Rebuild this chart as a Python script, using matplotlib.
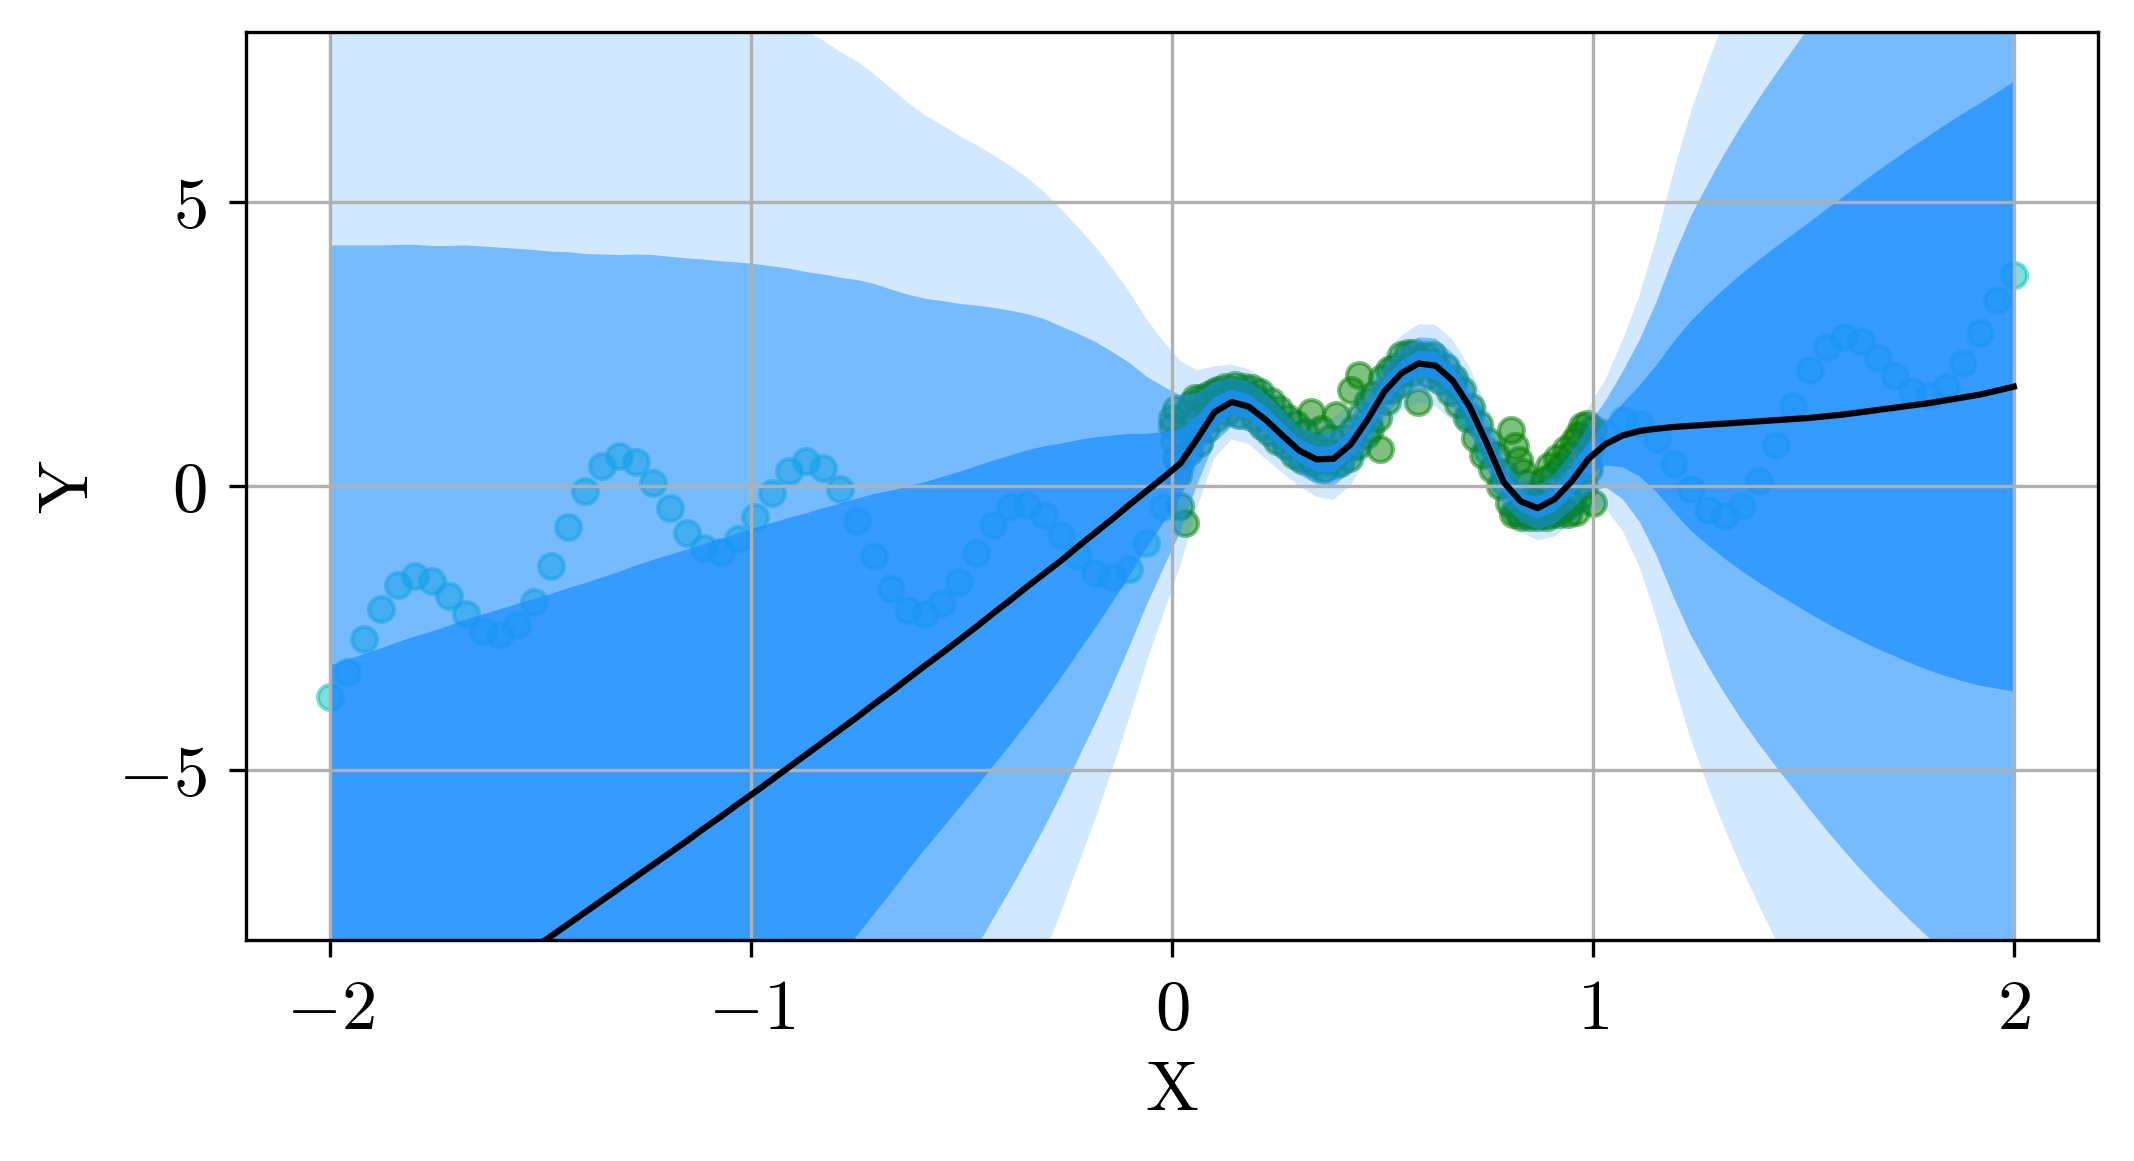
import numpy as np
import matplotlib
matplotlib.use("Agg")
import matplotlib.pyplot as plt

plt.rcParams['font.family'] = 'serif'
plt.rcParams['font.serif'] = ['cmr10']
plt.rcParams['mathtext.fontset'] = 'cm'
plt.rcParams['axes.unicode_minus'] = True

# ---------------- data ----------------
x_grid = np.linspace(-2, 2, 100)

y_test = [
    -3.71, -3.28, -2.70, -2.16, -1.75, -1.59, -1.67, -1.93, -2.26, -2.55,
    -2.63, -2.45, -2.04, -1.41, -0.72, -0.08, 0.35, 0.52, 0.42, 0.06,
    -0.39, -0.82, -1.10, -1.16, -0.94, -0.54, -0.12, 0.26, 0.44, 0.32,
    -0.06, -0.61, -1.23, -1.81, -2.18, -2.26, -2.06, -1.69, -1.18, -0.68,
    -0.37, -0.33, -0.51, -0.86, -1.23, -1.53, -1.61, -1.47, -1.00, -0.37,
    0.37, 1.00, 1.47, 1.61, 1.53, 1.23, 0.86, 0.51, 0.33, 0.37,
    0.68, 1.18, 1.69, 2.06, 2.26, 2.18, 1.81, 1.23, 0.61, 0.06,
    -0.32, -0.44, -0.26, 0.12, 0.54, 0.94, 1.16, 1.10, 0.82, 0.39,
    -0.06, -0.42, -0.52, -0.35, 0.08, 0.72, 1.41, 2.04, 2.45, 2.63,
    2.55, 2.26, 1.93, 1.67, 1.59, 1.75, 2.16, 2.70, 3.28, 3.71,
]

mean_pred = [
    -10.56, -10.36, -10.16, -9.96, -9.75, -9.55, -9.35, -9.15, -8.94, -8.74,
    -8.54, -8.34, -8.14, -7.93, -7.72, -7.51, -7.30, -7.09, -6.88, -6.67,
    -6.46, -6.25, -6.03, -5.82, -5.60, -5.39, -5.17, -4.95, -4.73, -4.51,
    -4.29, -4.07, -3.84, -3.62, -3.39, -3.16, -2.94, -2.71, -2.48, -2.24,
    -2.01, -1.77, -1.54, -1.31, -1.06, -0.82, -0.58, -0.33, -0.09, 0.15,
    0.40, 0.84, 1.30, 1.48, 1.40, 1.17, 0.89, 0.62, 0.47, 0.48,
    0.73, 1.17, 1.67, 1.99, 2.16, 2.12, 1.86, 1.40, 0.76, 0.07,
    -0.27, -0.39, -0.23, 0.08, 0.48, 0.74, 0.89, 0.97, 1.01, 1.04,
    1.06, 1.08, 1.10, 1.12, 1.14, 1.16, 1.18, 1.20, 1.23, 1.26,
    1.30, 1.34, 1.38, 1.42, 1.46, 1.51, 1.56, 1.61, 1.68, 1.75,
]

std_pred = [
    7.40, 7.30, 7.20, 7.10, 7.00, 6.90, 6.79, 6.69, 6.59, 6.48,
    6.37, 6.26, 6.15, 6.03, 5.92, 5.80, 5.69, 5.58, 5.48, 5.37,
    5.25, 5.13, 5.01, 4.89, 4.77, 4.65, 4.52, 4.39, 4.25, 4.12,
    3.98, 3.85, 3.70, 3.54, 3.38, 3.23, 3.10, 2.96, 2.83, 2.69,
    2.55, 2.40, 2.24, 2.06, 1.87, 1.68, 1.47, 1.25, 1.01, 0.80,
    0.60, 0.40, 0.27, 0.22, 0.22, 0.23, 0.22, 0.21, 0.22, 0.24,
    0.24, 0.23, 0.22, 0.22, 0.23, 0.24, 0.24, 0.23, 0.22, 0.20,
    0.18, 0.19, 0.22, 0.25, 0.30, 0.38, 0.56, 0.80, 1.12, 1.50,
    1.84, 2.12, 2.38, 2.62, 2.84, 3.05, 3.25, 3.45, 3.65, 3.84,
    4.03, 4.21, 4.38, 4.55, 4.71, 4.86, 5.00, 5.13, 5.25, 5.37,
]

x_train = [
    0.000, 0.000, 0.005, 0.010, 0.010, 0.015, 0.020, 0.030, 0.025, 0.035,
    0.040, 0.045, 0.050, 0.055, 0.060, 0.065, 0.070, 0.080, 0.085, 0.090,
    0.100, 0.105, 0.110, 0.120, 0.125, 0.130, 0.140, 0.145, 0.150, 0.160,
    0.165, 0.170, 0.180, 0.190, 0.195, 0.200, 0.210, 0.215, 0.220, 0.230,
    0.235, 0.240, 0.250, 0.255, 0.260, 0.270, 0.275, 0.280, 0.290, 0.295,
    0.300, 0.310, 0.315, 0.320, 0.330, 0.335, 0.340, 0.350, 0.355, 0.360,
    0.370, 0.375, 0.380, 0.390, 0.395, 0.400, 0.410, 0.420, 0.425, 0.430,
    0.440, 0.445, 0.450, 0.460, 0.465, 0.470, 0.480, 0.490, 0.495, 0.500,
    0.510, 0.515, 0.520, 0.530, 0.540, 0.545, 0.550, 0.560, 0.570, 0.575,
    0.585, 0.590, 0.600, 0.610, 0.620, 0.630, 0.640, 0.650, 0.660, 0.670,
    0.680, 0.690, 0.700, 0.710, 0.720, 0.730, 0.740, 0.750, 0.760, 0.770,
    0.780, 0.790, 0.800, 0.805, 0.810, 0.815, 0.820, 0.825, 0.830, 0.835,
    0.840, 0.845, 0.850, 0.855, 0.860, 0.865, 0.870, 0.875, 0.880, 0.885,
    0.890, 0.895, 0.900, 0.905, 0.910, 0.915, 0.920, 0.925, 0.930, 0.935,
    0.940, 0.945, 0.950, 0.955, 0.960, 0.965, 0.970, 0.975, 0.980, 0.985,
    0.990, 0.995, 1.000, 1.000,
]
y_train = [
    1.20, 1.05, 0.80, 0.50, 1.35, 0.20, -0.35, -0.66, 0.90, 1.30,
    0.60, 1.45, 0.90, 1.55, 1.20, 0.75, 1.55, 1.00, 1.60, 1.30,
    1.65, 1.20, 1.70, 1.45, 1.75, 1.30, 1.70, 1.50, 1.78, 1.25,
    1.65, 1.75, 1.40, 1.72, 1.20, 1.55, 1.65, 1.05, 1.40, 0.95,
    1.50, 1.20, 0.80, 1.35, 1.05, 0.70, 1.20, 0.90, 0.55, 1.10,
    0.75, 0.45, 0.95, 0.60, 1.30, 0.40, 0.70, 0.50, 1.00, 0.30,
    0.60, 0.85, 0.45, 1.25, 0.60, 0.40, 0.85, 0.50, 1.70, 1.00,
    0.70, 1.95, 1.25, 0.90, 1.50, 1.00, 1.60, 1.20, 0.65, 1.90,
    1.50, 2.05, 1.70, 2.10, 1.80, 2.30, 2.00, 2.35, 2.00, 2.35,
    1.48, 2.20, 2.30, 1.95, 2.30, 2.05, 1.85, 2.10, 1.65, 1.90,
    1.45, 1.70, 1.20, 1.40, 0.85, 1.10, 0.55, 0.80, 0.30, 0.55,
    0.00, 0.25, -0.30, 0.98, -0.50, 0.70, -0.45, 0.45, -0.55, 0.25,
    -0.50, 0.05, -0.55, -0.20, -0.50, -0.30, -0.55, -0.10, -0.50, 0.10,
    -0.55, 0.35, -0.50, 0.20, -0.45, 0.50, -0.50, 0.35, -0.40, 0.65,
    -0.50, 0.55, -0.30, 0.80, -0.45, 0.90, -0.20, 1.05, 0.00, 1.10,
    0.30, 0.75, -0.30, 1.00,
]

x_ticks = [-2, -1, 0, 1, 2]
x_tick_labels = ['$-2$', '$-1$', '$0$', '$1$', '$2$']
y_ticks = [-5, 0, 5]
y_tick_labels = ['$-5$', '$0$', '$5$']

# ---------------- plot ----------------
fig = plt.figure(figsize=(2134 / 300, 1161 / 300), dpi=300)
ax = fig.add_axes([0.1153, 0.1904, 0.9831 - 0.1153, 0.9724 - 0.1904])

mean = np.array(mean_pred)
std = np.array(std_pred)

ax.scatter(x_grid, y_test, color='c', alpha=0.5, s=36)
ax.scatter(x_train, y_train, color='g', alpha=0.5, s=36)

band_alphas = [0.2, 0.5, 0.725]
for k, a in zip([3, 2, 1], band_alphas):
    ax.fill_between(x_grid, mean - k * std, mean + k * std,
                    color='dodgerblue', alpha=a, linewidth=0)

ax.plot(x_grid, mean, color='black', lw=1.5)

ax.set_xlim(-2.2, 2.2)
ax.set_ylim(-8, 8)
ax.set_xticks(x_ticks, labels=x_tick_labels)
ax.set_yticks(y_ticks, labels=y_tick_labels)
ax.tick_params(labelsize=17, length=4, pad=5.5)
ax.grid(True)
ax.set_xlabel('X', fontsize=17, labelpad=4)
ax.set_ylabel('Y', fontsize=17, labelpad=4)

fig.savefig('out.png', dpi=300)
